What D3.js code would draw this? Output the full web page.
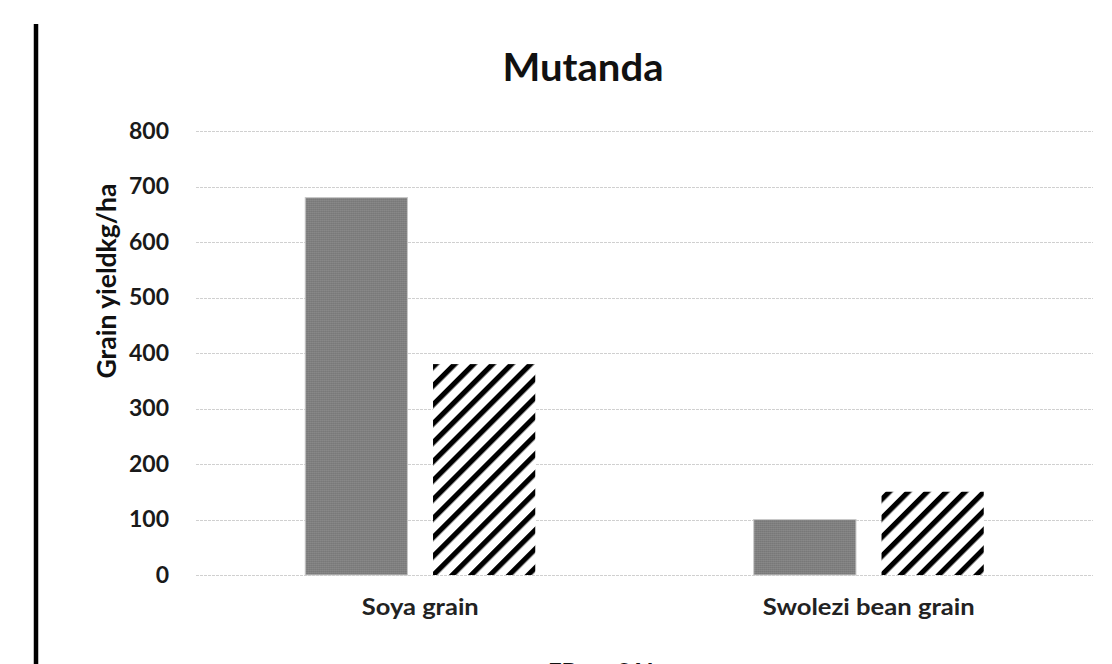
<!DOCTYPE html>
<html>
<head>
<meta charset="utf-8">
<script src="https://cdn.jsdelivr.net/npm/d3@7/dist/d3.min.js"></script>
<style>
  html, body { margin: 0; padding: 0; background: #fff; overflow: hidden; }
  svg { display: block; }
</style>
</head>
<body>
<svg id="chart" width="1112" height="664"></svg>
<script>
// Grain yield by crop at Mutanda, two treatments
const categories = ["Soya grain", "Swolezi bean grain"];
const seriesNames = ["FB", "SAI"];
const fbValues = [680, 100];
const saiValues = [380, 150];
const yTicks = [0, 100, 200, 300, 400, 500, 600, 700, 800];

const svg = d3.select("#chart");
const W = 1112, H = 664;
const m = { left: 196, right: 19, top: 131, bottom: 89 };
const plotW = W - m.left - m.right;
const plotH = H - m.top - m.bottom;

const defs = svg.append("defs");

// fine grey texture for the first series
const p1 = defs.append("pattern")
  .attr("id", "greyTex").attr("patternUnits", "userSpaceOnUse")
  .attr("width", 2).attr("height", 2);
p1.append("rect").attr("width", 2).attr("height", 2).attr("fill", "#808080");
p1.append("rect").attr("width", 1).attr("height", 1).attr("fill", "#767676");
p1.append("rect").attr("x", 1).attr("y", 1).attr("width", 1).attr("height", 1).attr("fill", "#8a8a8a");

// wide upward diagonal stripes for the second series
const p2 = defs.append("pattern")
  .attr("id", "diagStripe").attr("patternUnits", "userSpaceOnUse")
  .attr("width", 13.4).attr("height", 13.4)
  .attr("patternTransform", "rotate(45)");
p2.append("rect").attr("width", 13.4).attr("height", 13.4).attr("fill", "#fff");
p2.append("rect").attr("x", 0).attr("width", 5.2).attr("height", 13.4).attr("fill", "#000");

const fills = ["url(#greyTex)", "url(#diagStripe)"];

const g = svg.append("g").attr("transform", `translate(${m.left},${m.top})`);

const y = d3.scaleLinear().domain([0, 800]).range([plotH, 0]);
const x0 = d3.scaleBand().domain(categories).range([0, plotW]).padding(0);
const groupW = 230;
const x1 = d3.scaleBand().domain(seriesNames).range([0, groupW]).paddingInner(0.2).paddingOuter(0);

// gridlines
g.append("g").selectAll("line").data(yTicks).join("line")
  .attr("x1", 0).attr("x2", plotW)
  .attr("y1", d => Math.round(y(d)) + 0.5).attr("y2", d => Math.round(y(d)) + 0.5)
  .attr("stroke", "#d0d0d0").attr("stroke-width", 1)
  .attr("stroke-dasharray", "3,1");

// y axis tick labels
const yAxis = d3.axisLeft(y).tickValues(yTicks).tickSize(0).tickPadding(27);
const ya = g.append("g").call(yAxis);
ya.select(".domain").remove();
ya.selectAll("text")
  .attr("font-family", "Lato, 'Open Sans', sans-serif")
  .attr("font-weight", "bold").attr("font-size", 23).attr("fill", "#1a1a1a");

// bars
const rows = categories.map((c, i) => ({ cat: c, vals: [fbValues[i], saiValues[i]] }));
const grp = g.selectAll("g.cat").data(rows).join("g")
  .attr("class", "cat")
  .attr("transform", d => `translate(${x0(d.cat) + x0.bandwidth() / 2 - groupW / 2},0)`);
grp.selectAll("rect").data(d => d.vals.map((v, k) => ({ v, k }))).join("rect")
  .attr("x", d => x1(seriesNames[d.k]))
  .attr("width", x1.bandwidth())
  .attr("y", d => y(d.v))
  .attr("height", d => y(0) - y(d.v))
  .attr("fill", d => fills[d.k])
  .attr("stroke", d => d.k === 0 ? "#c8c8c8" : "none")
  .attr("stroke-width", 1);

// category labels
g.append("g").selectAll("text").data(categories).join("text")
  .attr("x", d => x0(d) + x0.bandwidth() / 2)
  .attr("y", plotH + 40)
  .attr("text-anchor", "middle")
  .attr("font-family", "Lato, 'Open Sans', sans-serif")
  .attr("font-weight", "bold").attr("font-size", 22).attr("fill", "#222")
  .attr("textLength", (d, i) => i === 0 ? 117 : 212)
  .attr("lengthAdjust", "spacingAndGlyphs")
  .text(d => d);

// title
svg.append("text")
  .attr("x", 583).attr("y", 81)
  .attr("text-anchor", "middle")
  .attr("font-family", "Lato, 'Open Sans', sans-serif")
  .attr("font-weight", "bold").attr("font-size", 38).attr("fill", "#111")
  .attr("textLength", 161).attr("lengthAdjust", "spacingAndGlyphs")
  .text("Mutanda");

// y axis title
svg.append("text")
  .attr("transform", "translate(116,281) rotate(-90)")
  .attr("text-anchor", "middle")
  .attr("font-family", "Lato, 'Open Sans', sans-serif")
  .attr("font-weight", "bold").attr("font-size", 27).attr("fill", "#111")
  .attr("textLength", 195).attr("lengthAdjust", "spacingAndGlyphs")
  .text("Grain yieldkg/ha");

// legend (sits at the lower edge of the frame)
const legend = svg.append("g");
const legX = [548, 617];
seriesNames.forEach((s, i) => {
  legend.append("rect")
    .attr("x", legX[i] - 18).attr("y", 668).attr("width", 12).attr("height", 12)
    .attr("fill", fills[i]);
  legend.append("text")
    .attr("x", legX[i]).attr("y", 681)
    .attr("font-family", "Lato, 'Open Sans', sans-serif")
    .attr("font-weight", "bold").attr("font-size", 24).attr("fill", "#111")
    .text(s);
});

// heavy vertical rule on the left
svg.append("line")
  .attr("x1", 36).attr("x2", 36).attr("y1", 24).attr("y2", H)
  .attr("stroke", "#000").attr("stroke-width", 4.5);
</script>
</body>
</html>
